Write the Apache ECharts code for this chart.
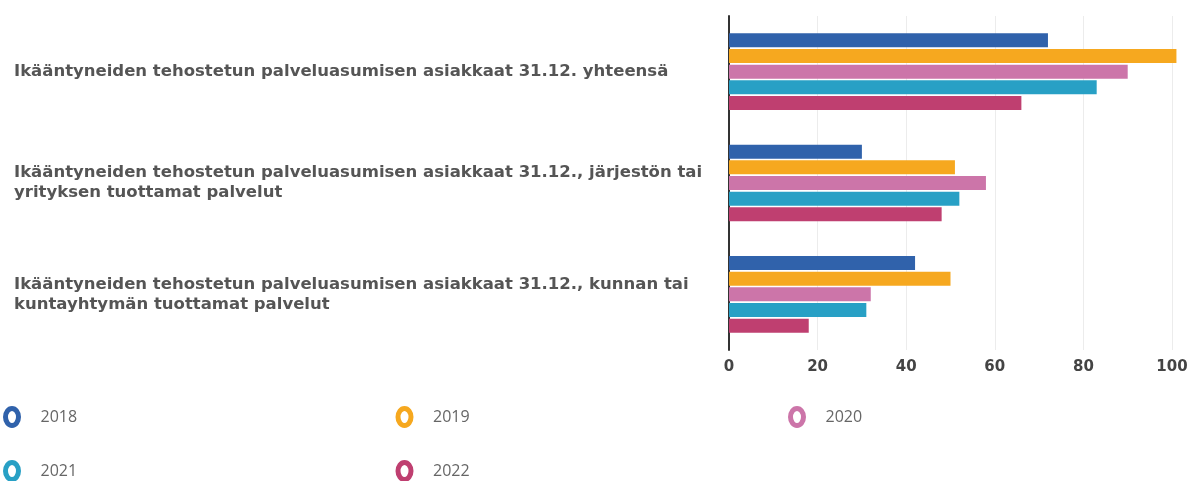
<!DOCTYPE html>
<html>
<head>
<meta charset="utf-8">
<script src="https://cdn.jsdelivr.net/npm/echarts@6/dist/echarts.min.js"></script>
<style>
html,body{margin:0;padding:0;background:#fff;}
#chart{width:1192px;height:481px;}
</style>
</head>
<body>
<div id="chart"></div>
<script>
// luokat (ylhäältä alas)
var categories = [
    'Ikääntyneiden tehostetun palveluasumisen asiakkaat 31.12. yhteensä',
    'Ikääntyneiden tehostetun palveluasumisen asiakkaat 31.12., järjestön tai yrityksen tuottamat palvelut',
    'Ikääntyneiden tehostetun palveluasumisen asiakkaat 31.12., kunnan tai kuntayhtymän tuottamat palvelut'
];
var years = ['2018', '2019', '2020', '2021', '2022'];
var colors = ['#3062ab', '#f6a81f', '#cc75a9', '#28a0c5', '#bf3f70'];
var v2018 = [72, 30, 42];
var v2019 = [101, 51, 50];
var v2020 = [90, 58, 32];
var v2021 = [83, 52, 31];
var v2022 = [66, 48, 18];
var xTicks = [0, 20, 40, 60, 80, 100];

var values = [v2018, v2019, v2020, v2021, v2022];

// rengas-ikoni legendaan (venyy itemWidth/itemHeight mukaan)
var ringIcon = 'path://M10,0A10,10,0,1,1,10,20A10,10,0,1,1,10,0Z';

var labelFont = 'bold 16.5px "DejaVu Sans"';
var ctx = document.createElement('canvas').getContext('2d');
ctx.font = labelFont;
// rivitys sanojen kohdalta, ettei rivin alkuun jää välilyöntiä
function wrap(text, maxW) {
    var words = text.split(' ');
    var lines = [], cur = '';
    for (var i = 0; i < words.length; i++) {
        var test = cur ? cur + ' ' + words[i] : words[i];
        if (cur && ctx.measureText(test).width > maxW) {
            lines.push(cur);
            cur = words[i];
        } else {
            cur = test;
        }
    }
    lines.push(cur);
    return lines.join('\n');
}

var chart = echarts.init(document.getElementById('chart'));
var series = [];
for (var i = 0; i < years.length; i++) {
    series.push({
        name: years[i],
        type: 'bar',
        data: values[i],
        barWidth: 14,
        barGap: '12%',
        clip: false,
        itemStyle: {color: colors[i]}
    });
}

var option = {
    animation: false,
    color: colors,
    grid: {left: 729, right: 20, top: 16, bottom: 131},
    legend: {
        data: years.map(function (y, i) {
            return {name: y, icon: ringIcon, itemStyle: {color: '#fff', borderColor: colors[i], borderWidth: 5}};
        }),
        symbolKeepAspect: false,
        padding: 0,
        left: 3,
        top: 406,
        width: 1187,
        itemWidth: 13,
        itemHeight: 17,
        itemGap: 32,
        textStyle: {
            color: '#666',
            fontSize: 16,
            fontFamily: 'Open Sans',
            width: 323,
            lineHeight: 20,
            padding: [0, 0, 0, 17]
        }
    },
    xAxis: {
        type: 'value',
        min: 0,
        max: 100,
        interval: 20,
        axisLine: {show: false},
        axisTick: {show: false},
        splitLine: {lineStyle: {color: '#ececec'}},
        axisLabel: {
            color: '#444',
            fontSize: 15,
            fontWeight: 'bold',
            fontFamily: 'DejaVu Sans',
            margin: 10,
            formatter: function (v) { return xTicks.indexOf(v) >= 0 ? String(v) : ''; }
        }
    },
    yAxis: {
        type: 'category',
        data: categories,
        inverse: true,
        axisLine: {lineStyle: {color: '#333', width: 2}},
        axisTick: {show: false},
        axisLabel: {
            align: 'left',
            margin: 715,
            color: '#555',
            fontSize: 16.5,
            fontWeight: 'bold',
            fontFamily: 'DejaVu Sans',
            lineHeight: 20,
            formatter: function (v) { return wrap(v, 706); }
        }
    },
    series: series
};
chart.setOption(option);
</script>
</body>
</html>
